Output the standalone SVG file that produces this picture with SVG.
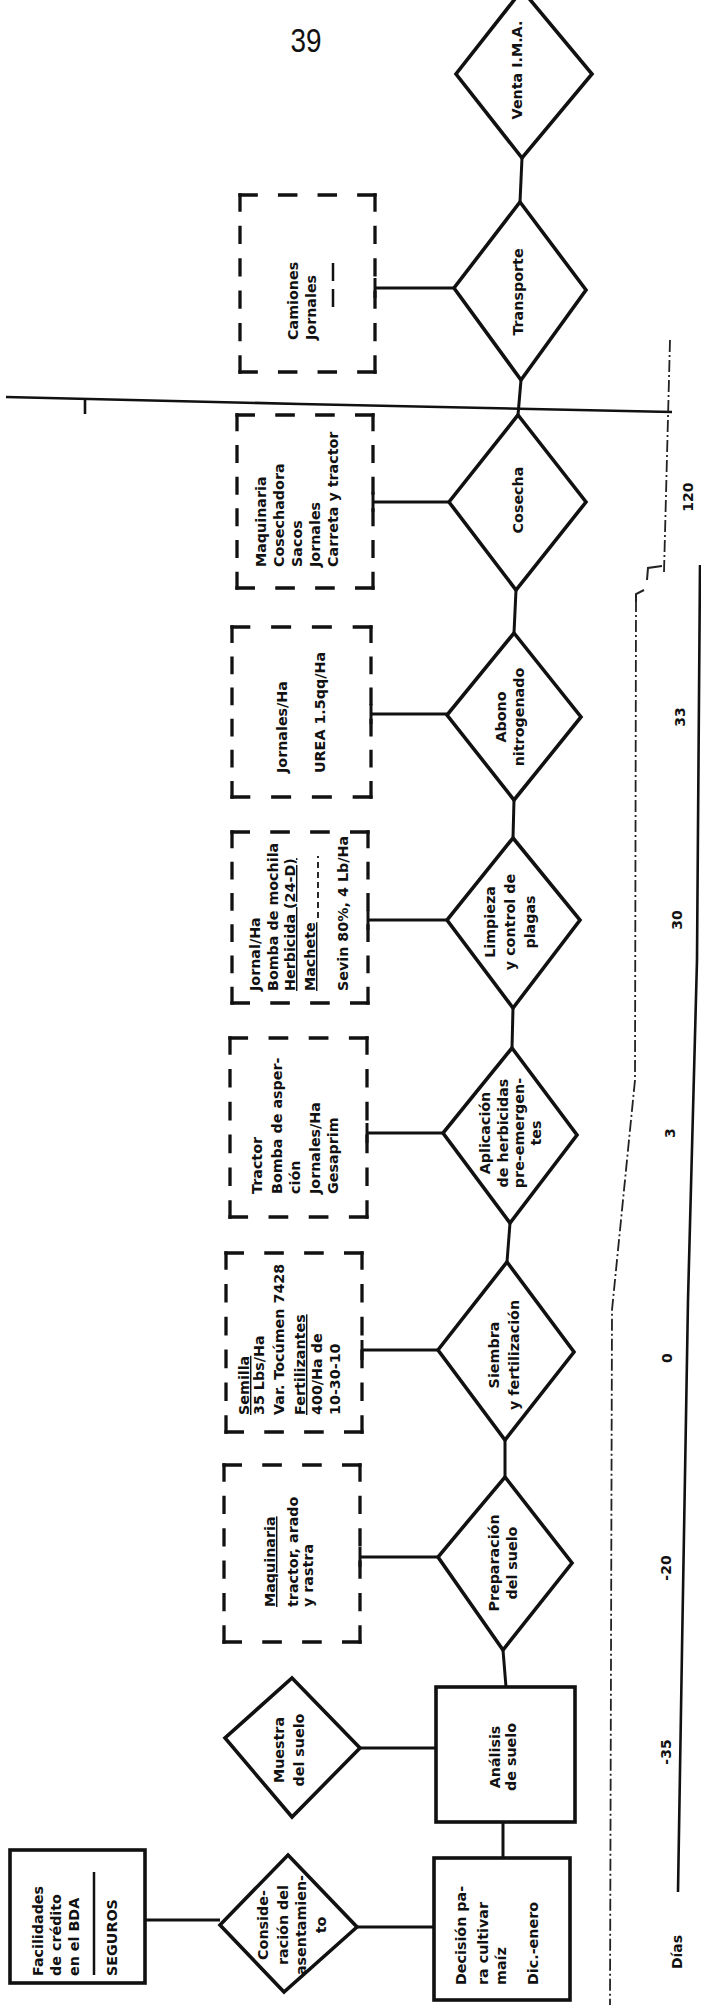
<svg xmlns="http://www.w3.org/2000/svg" width="701" height="2005" viewBox="0 0 701 2005">
<style>
.bg{fill:#ffffff}
.sh{fill:none;stroke:#111;stroke-width:3.6;stroke-linejoin:miter}
.cn{fill:none;stroke:#111;stroke-width:3}
.dh{stroke:#111;stroke-width:3.3;stroke-dasharray:12 17.33;stroke-linecap:square}
.dv{stroke:#111;stroke-width:3.3;stroke-dasharray:8.5 9.8;stroke-linecap:square}
.ax{fill:none;stroke:#111;stroke-width:2.6}
.dd{fill:none;stroke:#222;stroke-width:1.8;stroke-dasharray:12 3 2 3}
.br{fill:none;stroke:#222;stroke-width:2}
text{font-family:"DejaVu Sans","Liberation Sans",sans-serif;font-weight:bold;font-size:14.3px;fill:#111}
.m{text-anchor:middle}
.s{text-anchor:start}
.u{text-decoration:underline}
.lab{font-size:14px}
.pg{font-family:"Liberation Sans",Arial,sans-serif;font-weight:normal;font-size:33px}
</style>
<rect class="bg" x="0" y="0" width="701" height="2005"/>
<text class="pg m" x="306" y="52" textLength="31" lengthAdjust="spacingAndGlyphs">39</text>

<g id="connectors">
<line class="cn" x1="522" y1="158" x2="520" y2="202"/>
<line class="cn" x1="375" y1="288" x2="454" y2="288"/>
<line class="cn" x1="375" y1="278" x2="375" y2="298"/>
<line class="cn" x1="521" y1="380" x2="518" y2="415"/>
<line class="cn" x1="373" y1="502" x2="449" y2="502"/>
<line class="cn" x1="373" y1="492" x2="373" y2="512"/>
<line class="cn" x1="516" y1="590" x2="514" y2="633"/>
<line class="cn" x1="371" y1="714" x2="447" y2="714"/>
<line class="cn" x1="371" y1="704" x2="371" y2="724"/>
<line class="cn" x1="514" y1="800" x2="513" y2="838"/>
<line class="cn" x1="368" y1="920" x2="447" y2="920"/>
<line class="cn" x1="368" y1="910" x2="368" y2="930"/>
<line class="cn" x1="513" y1="1008" x2="512" y2="1048"/>
<line class="cn" x1="367" y1="1133" x2="443" y2="1133"/>
<line class="cn" x1="367" y1="1123" x2="367" y2="1143"/>
<line class="cn" x1="510" y1="1223" x2="507" y2="1262"/>
<line class="cn" x1="362" y1="1350" x2="438" y2="1350"/>
<line class="cn" x1="362" y1="1340" x2="362" y2="1360"/>
<line class="cn" x1="505" y1="1440" x2="505" y2="1477"/>
<line class="cn" x1="360" y1="1557" x2="438" y2="1557"/>
<line class="cn" x1="360" y1="1547" x2="360" y2="1567"/>
<line class="cn" x1="503" y1="1650" x2="506" y2="1687"/>
<line class="cn" x1="360" y1="1748" x2="436" y2="1748"/>
<line class="cn" x1="503" y1="1822" x2="503" y2="1858"/>
<line class="cn" x1="357" y1="1927" x2="434" y2="1927"/>
<line class="cn" x1="145" y1="1920" x2="220" y2="1920"/>
</g>

<g id="scan-lines">
<polyline class="ax" points="6,397 300,404 672,412"/>
<line class="ax" x1="85" y1="398" x2="85" y2="414"/>
<polyline class="dd" points="670,340 664,572"/>
<polyline class="br" points="662,566 648,568 647,580"/>
<polyline class="br" points="644,590 636,594 636,602"/>
<polyline class="dd" points="636,600 635,1080 612,1310 610,2005"/>
</g>

<g id="axis">
<polyline class="ax" points="700,565 697,960 688,1300 682,1650 678,1892"/>
<text class="lab m" x="692.5" y="497" transform="rotate(-90 692.5 497)">120</text>
<text class="lab m" x="684.5" y="717" transform="rotate(-90 684.5 717)">33</text>
<text class="lab m" x="681.5" y="920" transform="rotate(-90 681.5 920)">30</text>
<text class="lab m" x="674.5" y="1133" transform="rotate(-90 674.5 1133)">3</text>
<text class="lab m" x="671.5" y="1358" transform="rotate(-90 671.5 1358)">0</text>
<text class="lab m" x="670.5" y="1568" transform="rotate(-90 670.5 1568)">-20</text>
<text class="lab m" x="670.5" y="1752" transform="rotate(-90 670.5 1752)">-35</text>
<text class="lab m" x="681.5" y="1952" transform="rotate(-90 681.5 1952)">Días</text>
</g>

<g id="venta">
<polygon class="sh" points="522,-10 592,74 522,158 456,74"/>
<text class="m" x="522" y="70" transform="rotate(-90 522 70)">Venta I.M.A.</text>
</g>

<g id="transporte">
<polygon class="sh" points="520,202 586,290 521,380 454,288"/>
<text class="m" x="523" y="292" transform="rotate(-90 523 292)">Transporte</text>
</g>

<g id="camiones">
<line class="dh" x1="240" y1="195" x2="375" y2="195" pathLength="100"/>
<line class="dh" x1="240" y1="372" x2="375" y2="372" pathLength="100"/>
<line class="dv" x1="240" y1="195" x2="240" y2="372" pathLength="100"/>
<line class="dv" x1="375" y1="195" x2="375" y2="372" pathLength="100"/>
<text class="s" x="298" y="340" transform="rotate(-90 298 340)">Camiones</text>
<text class="s" x="316" y="340" transform="rotate(-90 316 340)">Jornales</text>
<line class="cn" x1="333" y1="263" x2="333" y2="307" style="stroke-width:2.5;stroke-dasharray:18 8"/>
</g>

<g id="cosecha">
<polygon class="sh" points="518,415 586,502 516,590 449,502"/>
<text class="m" x="523" y="500" transform="rotate(-90 523 500)">Cosecha</text>
</g>

<g id="maq-cosecha">
<line class="dh" x1="237" y1="415" x2="373" y2="415" pathLength="100"/>
<line class="dh" x1="237" y1="588" x2="373" y2="588" pathLength="100"/>
<line class="dv" x1="237" y1="415" x2="237" y2="588" pathLength="100"/>
<line class="dv" x1="373" y1="415" x2="373" y2="588" pathLength="100"/>
<text class="s" x="266" y="567" transform="rotate(-90 266 567)">Maquinaria</text>
<text class="s" x="284" y="567" transform="rotate(-90 284 567)">Cosechadora</text>
<text class="s" x="302" y="567" transform="rotate(-90 302 567)">Sacos</text>
<text class="s" x="320" y="567" transform="rotate(-90 320 567)">Jornales</text>
<text class="s" x="338" y="567" transform="rotate(-90 338 567)">Carreta y tractor</text>
</g>

<g id="abono">
<polygon class="sh" points="514,633 581,717 514,800 447,715"/>
<text class="m" x="506" y="717" transform="rotate(-90 506 717)">Abono</text>
<text class="m" x="524" y="717" transform="rotate(-90 524 717)">nitrogenado</text>
</g>

<g id="jornales-urea">
<line class="dh" x1="232" y1="627" x2="371" y2="627" pathLength="100"/>
<line class="dh" x1="232" y1="797" x2="371" y2="797" pathLength="100"/>
<line class="dv" x1="232" y1="627" x2="232" y2="797" pathLength="100"/>
<line class="dv" x1="371" y1="627" x2="371" y2="797" pathLength="100"/>
<text class="s" x="287" y="773" transform="rotate(-90 287 773)">Jornales/Ha</text>
<text class="s" x="325" y="773" transform="rotate(-90 325 773)">UREA 1.5qq/Ha</text>
</g>

<g id="limpieza">
<polygon class="sh" points="513,838 580,920 513,1008 447,920"/>
<text class="m" x="495" y="922" transform="rotate(-90 495 922)">Limpieza</text>
<text class="m" x="515" y="922" transform="rotate(-90 515 922)">y control de</text>
<text class="m" x="535" y="922" transform="rotate(-90 535 922)">plagas</text>
</g>

<g id="jornal-herbicida">
<line class="dh" x1="232" y1="832" x2="368" y2="832" pathLength="100"/>
<line class="dh" x1="232" y1="1003" x2="368" y2="1003" pathLength="100"/>
<line class="dv" x1="232" y1="832" x2="232" y2="1003" pathLength="100"/>
<line class="dv" x1="368" y1="832" x2="368" y2="1003" pathLength="100"/>
<text class="s" x="260" y="991" transform="rotate(-90 260 991)">Jornal/Ha</text>
<text class="s" x="278" y="991" transform="rotate(-90 278 991)">Bomba de mochila</text>
<text class="s u" x="295" y="991" transform="rotate(-90 295 991)">Herbicida (24-D)</text>
<text class="s u" x="315" y="991" transform="rotate(-90 315 991)">Machete</text>
<line class="cn" x1="318" y1="918" x2="318" y2="856" style="stroke-width:1.8;stroke-dasharray:6 4"/>
<text class="s" x="348" y="991" transform="rotate(-90 348 991)">Sevin 80%, 4 Lb/Ha</text>
</g>

<g id="aplicacion">
<polygon class="sh" points="512,1048 577,1135 510,1223 443,1133"/>
<text class="m" x="490" y="1133" transform="rotate(-90 490 1133)">Aplicación</text>
<text class="m" x="508" y="1133" transform="rotate(-90 508 1133)">de herbicidas</text>
<text class="m" x="524" y="1133" transform="rotate(-90 524 1133)">pre-emergen-</text>
<text class="m" x="541" y="1133" transform="rotate(-90 541 1133)">tes</text>
</g>

<g id="tractor">
<line class="dh" x1="230" y1="1038" x2="367" y2="1038" pathLength="100"/>
<line class="dh" x1="230" y1="1217" x2="367" y2="1217" pathLength="100"/>
<line class="dv" x1="230" y1="1038" x2="230" y2="1217" pathLength="100"/>
<line class="dv" x1="367" y1="1038" x2="367" y2="1217" pathLength="100"/>
<text class="s" x="262" y="1194" transform="rotate(-90 262 1194)">Tractor</text>
<text class="s" x="282" y="1194" transform="rotate(-90 282 1194)">Bomba de asper-</text>
<text class="s" x="300" y="1194" transform="rotate(-90 300 1194)">ción</text>
<text class="s" x="320" y="1194" transform="rotate(-90 320 1194)">Jornales/Ha</text>
<text class="s" x="338" y="1194" transform="rotate(-90 338 1194)">Gesaprim</text>
</g>

<g id="siembra">
<polygon class="sh" points="507,1262 574,1352 505,1440 438,1350"/>
<text class="m" x="499" y="1355" transform="rotate(-90 499 1355)">Siembra</text>
<text class="m" x="519" y="1355" transform="rotate(-90 519 1355)">y fertilización</text>
</g>

<g id="semilla">
<line class="dh" x1="226" y1="1253" x2="362" y2="1253" pathLength="100"/>
<line class="dh" x1="226" y1="1432" x2="362" y2="1432" pathLength="100"/>
<line class="dv" x1="226" y1="1253" x2="226" y2="1432" pathLength="100"/>
<line class="dv" x1="362" y1="1253" x2="362" y2="1432" pathLength="100"/>
<text class="s u" x="249" y="1415" transform="rotate(-90 249 1415)">Semilla</text>
<text class="s" x="264" y="1415" transform="rotate(-90 264 1415)">35 Lbs/Ha</text>
<text class="s" x="284" y="1415" transform="rotate(-90 284 1415)">Var. Tocúmen 7428</text>
<text class="s u" x="305" y="1415" transform="rotate(-90 305 1415)">Fertilizantes</text>
<text class="s" x="322" y="1415" transform="rotate(-90 322 1415)">400/Ha de</text>
<text class="s" x="340" y="1415" transform="rotate(-90 340 1415)">10-30-10</text>
</g>

<g id="preparacion">
<polygon class="sh" points="505,1477 572,1563 503,1650 438,1557"/>
<text class="m" x="499" y="1563" transform="rotate(-90 499 1563)">Preparación</text>
<text class="m" x="517" y="1563" transform="rotate(-90 517 1563)">del suelo</text>
</g>

<g id="maquinaria">
<line class="dh" x1="224" y1="1465" x2="360" y2="1465" pathLength="100"/>
<line class="dh" x1="224" y1="1642" x2="360" y2="1642" pathLength="100"/>
<line class="dv" x1="224" y1="1465" x2="224" y2="1642" pathLength="100"/>
<line class="dv" x1="360" y1="1465" x2="360" y2="1642" pathLength="100"/>
<text class="s u" x="275" y="1607" transform="rotate(-90 275 1607)">Maquinaria</text>
<text class="s" x="298" y="1607" transform="rotate(-90 298 1607)">tractor, arado</text>
<text class="s" x="313" y="1607" transform="rotate(-90 313 1607)">y rastra</text>
</g>

<g id="analisis">
<rect class="sh" x="436" y="1687" width="139" height="135"/>
<text class="m" x="500" y="1757" transform="rotate(-90 500 1757)">Análisis</text>
<text class="m" x="516" y="1757" transform="rotate(-90 516 1757)">de suelo</text>
</g>

<g id="muestra">
<polygon class="sh" points="292,1678 360,1748 292,1817 225,1738"/>
<text class="m" x="284" y="1750" transform="rotate(-90 284 1750)">Muestra</text>
<text class="m" x="304" y="1750" transform="rotate(-90 304 1750)">del suelo</text>
</g>

<g id="decision">
<rect class="sh" x="434" y="1858" width="136" height="142"/>
<text class="s" x="466" y="1985" transform="rotate(-90 466 1985)">Decisión pa-</text>
<text class="s" x="488" y="1985" transform="rotate(-90 488 1985)">ra cultivar</text>
<text class="s" x="506" y="1985" transform="rotate(-90 506 1985)">maíz</text>
<text class="s" x="538" y="1985" transform="rotate(-90 538 1985)">Dic.-enero</text>
</g>

<g id="consideracion">
<polygon class="sh" points="288,1855 357,1927 284,1992 220,1925"/>
<text class="m" x="268" y="1925" transform="rotate(-90 268 1925)">Conside-</text>
<text class="m" x="288" y="1925" transform="rotate(-90 288 1925)">ración del</text>
<text class="m" x="306" y="1925" transform="rotate(-90 306 1925)">asentamien-</text>
<text class="m" x="326" y="1925" transform="rotate(-90 326 1925)">to</text>
</g>

<g id="facilidades">
<rect class="sh" x="10" y="1850" width="135" height="133"/>
<line class="cn" x1="94" y1="1872" x2="94" y2="1975" style="stroke-width:2.5"/>
<text class="s" x="43" y="1976" transform="rotate(-90 43 1976)">Facilidades</text>
<text class="s" x="61" y="1976" transform="rotate(-90 61 1976)">de crédito</text>
<text class="s" x="79" y="1976" transform="rotate(-90 79 1976)">en el BDA</text>
<text class="s" x="117" y="1976" transform="rotate(-90 117 1976)">SEGUROS</text>
</g>
</svg>
